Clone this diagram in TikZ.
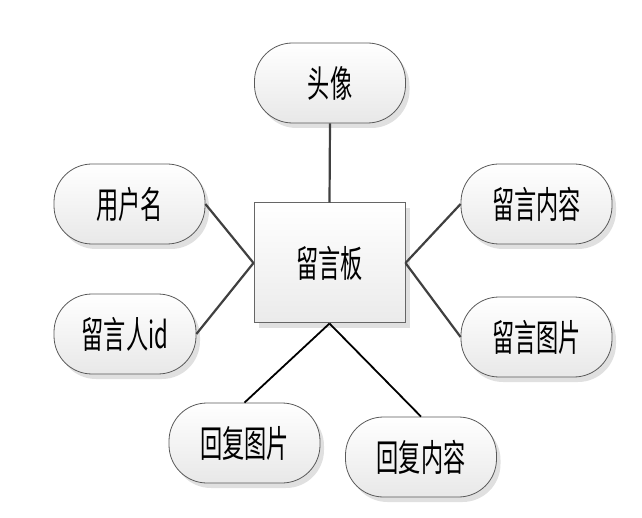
\documentclass[tikz,border=0pt]{standalone}
\usepackage{fontspec}
\newfontfamily\cjk{Noto Sans CJK SC}
\usetikzlibrary{shadows}
\tikzset{
  pill/.style={draw=black!65, line width=0.8pt, rounded corners=38pt,
    minimum width=151pt, minimum height=80pt, inner sep=0pt,
    top color=white, bottom color=black!9,
    drop shadow={shadow xshift=4pt, shadow yshift=-5pt, fill=black!12, opacity=1}},
  hub/.style={draw=black!60, line width=1pt,
    minimum width=151pt, minimum height=120pt, inner sep=0pt,
    top color=white, bottom color=black!8,
    drop shadow={shadow xshift=5pt, shadow yshift=-5pt, fill=black!12, opacity=1}},
  lbl/.style={font=\cjk\fontsize{37pt}{40pt}\selectfont, xscale=0.6},
  grayline/.style={draw=black!75, line width=2.2pt},
  blkline/.style={draw=black, line width=1.8pt}
}
\begin{document}
\begin{tikzpicture}[x=1pt,y=-1pt]
\useasboundingbox (0,0) rectangle (642,518);
\node[hub] (hub) at (329.5,263) {};
\node[pill] (tx) at (330,83) {};
\node[pill] (yhm) at (129.5,204) {};
\node[pill, minimum width=142pt] (lyr) at (125,334) {};
\node[pill] (lynr) at (536.5,204) {};
\node[pill] (lytp) at (536.5,337) {};
\node[pill] (hftp) at (244.5,443) {};
\node[pill] (hfnr) at (421,457) {};
\node[lbl] at (hub) {留言板};
\node[lbl] at (tx) {头像};
\node[lbl] at (yhm) {用户名};
\node[lbl] at (lyr) {留言人id};
\node[lbl] at (lynr) {留言内容};
\node[lbl] at (lytp) {留言图片};
\node[lbl] at (hftp) {回复图片};
\node[lbl] at (hfnr) {回复内容};
\draw[grayline] (tx.south) -- (hub.north);
\draw[grayline] (yhm.east) -- (hub.west);
\draw[grayline] (lyr.east) -- (hub.west);
\draw[grayline] (lynr.west) -- (hub.east);
\draw[grayline] (lytp.west) -- (hub.east);
\draw[blkline] (hub.south) -- (hftp.north);
\draw[blkline] (hub.south) -- (hfnr.north);
\end{tikzpicture}
\end{document}
